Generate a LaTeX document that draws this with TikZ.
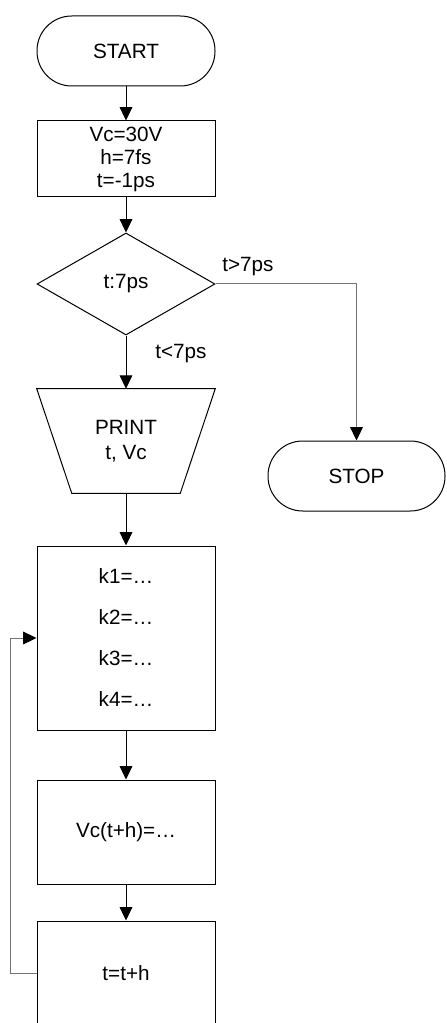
\documentclass[tikz,border=0pt]{standalone}
\usepackage{fontspec}
\setmainfont{Liberation Sans}
\usetikzlibrary{arrows.meta,shapes.geometric}
\tikzset{
  base/.style={draw=black, line width=0.75pt, inner sep=0pt, align=center, font=\fontsize{15.5}{17.25}\selectfont},
  term/.style={base, rounded corners=26pt, minimum width=133.5pt, minimum height=52.5pt},
  proc/.style={base, rectangle, minimum width=133.5pt},
  decide/.style={base, diamond, minimum width=133.5pt, minimum height=76.5pt},
  ghost/.style={inner sep=0pt, align=center, minimum width=133.5pt, font=\fontsize{15.5}{18.75}\selectfont},
  flow/.style={line width=0.75pt, -{Triangle[length=10pt,width=9.5pt]}},
  gflow/.style={line width=0.75pt, draw=black!55, -{Triangle[length=10pt,width=9.5pt,color=black]}},
  lbl/.style={inner sep=0pt, font=\fontsize{15.5}{17.25}\selectfont}
}
\begin{document}
\begin{tikzpicture}[x=0.75pt,y=-0.75pt]
\clip (0,0) rectangle (446,1023);
\node[term] (start) at (126,51) {START};
\node[proc, minimum height=57pt] (init) at (126,159) {Vc=30V\\h=7fs\\t=-1ps};
\node[decide] (dec) at (126,284) {t:7ps};
\node[ghost, minimum height=78pt] (print) at (126,441) {PRINT\\t, Vc};
\draw[line width=0.75pt] (print.north west) -- (print.north east) -- ([xshift=-26.25pt]print.south east) -- ([xshift=26.25pt]print.south west) -- cycle;
\node[term, minimum width=132.75pt] (stop) at (356.5,476) {STOP};
\node[proc, minimum height=138pt, font=\fontsize{15.5}{30.75}\selectfont] (kb) at (126,638) {k1=…\\k2=…\\k3=…\\k4=…};
\node[proc, minimum height=78pt] (vcb) at (126,832) {Vc(t+h)=…};
\node[proc, minimum height=78pt] (tth) at (126,973) {t=t+h};

\draw[flow] (start) -- (init);
\draw[flow] (init) -- (dec);
\draw[flow] (dec.south) -- (print.north);
\draw[gflow] (dec.east) -| (stop.north);
\draw[flow] (print.south) -- (kb.north);
\draw[flow] (kb) -- (vcb);
\draw[flow] (vcb) -- (tth);
\draw[gflow] (tth.west) -- ++(-26,0) |- (kb.west);

\node[lbl, anchor=west] (gt) at (222,267) {t>7ps};
\node[lbl, anchor=west] (lt) at (155,354) {t<7ps};
\end{tikzpicture}
\end{document}
